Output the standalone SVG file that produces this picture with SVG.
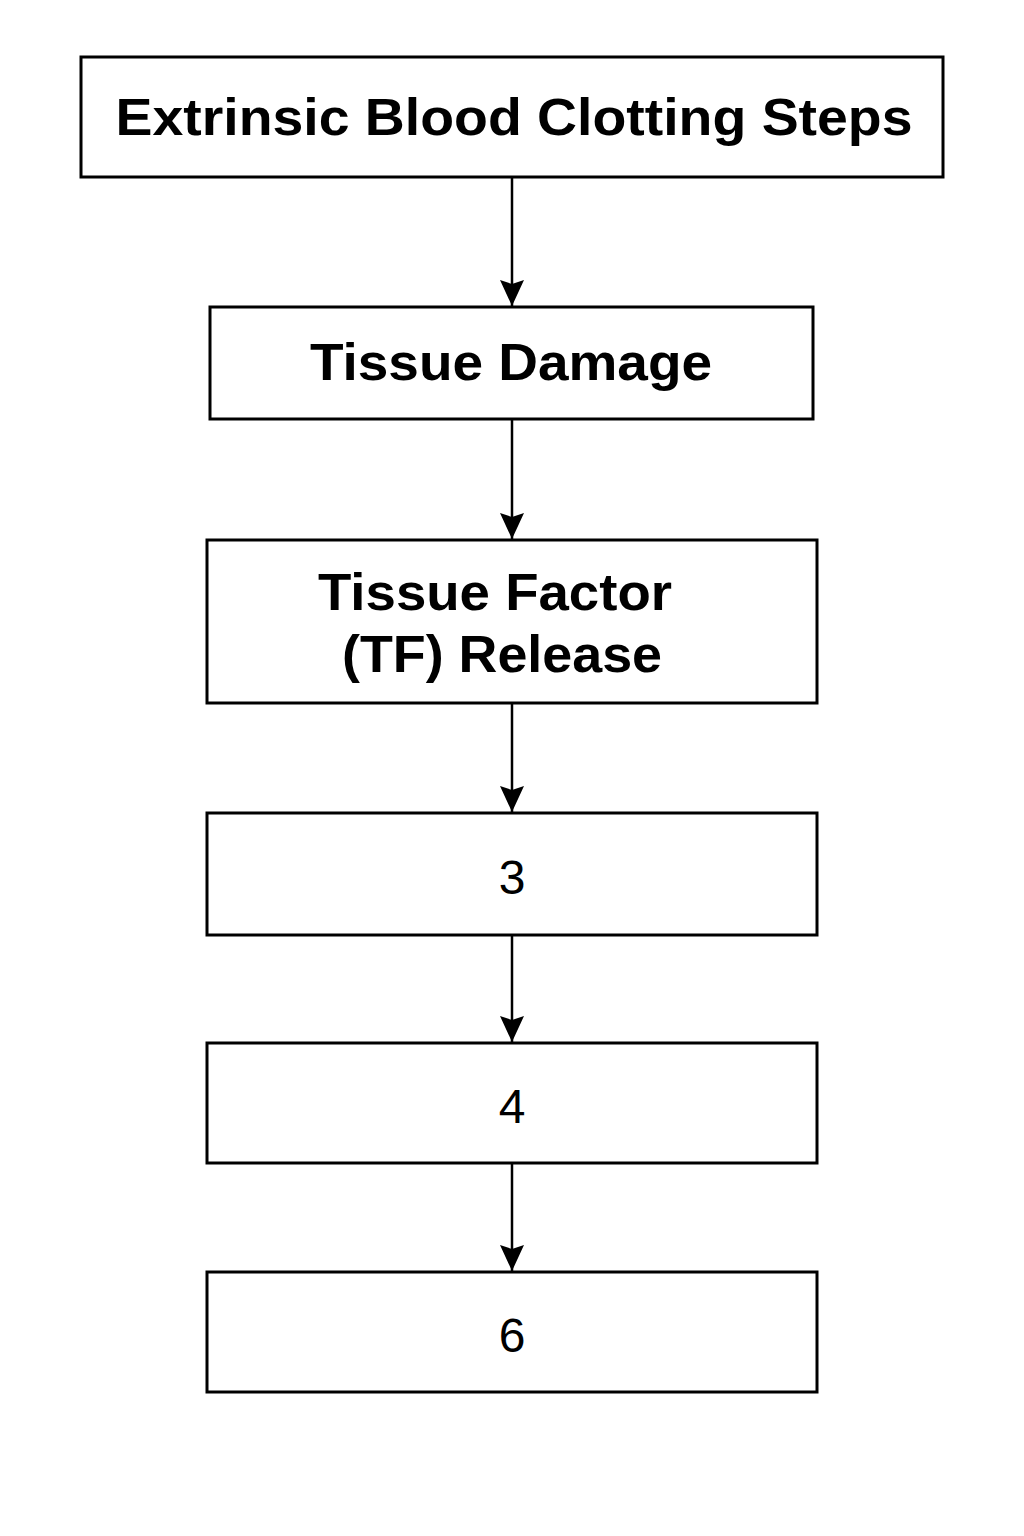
<svg xmlns="http://www.w3.org/2000/svg" width="1024" height="1536" viewBox="0 0 1024 1536">
<defs>
<style>
.box{fill:#fff;stroke:#000;stroke-width:3}
.t{font-family:"Liberation Sans",Arial,sans-serif;font-weight:bold;fill:#000;text-anchor:middle}
.n{font-family:"Liberation Sans",Arial,sans-serif;fill:#000;text-anchor:middle;font-size:48px}
.c{stroke:#000;stroke-width:2.5;fill:none}
</style>
<marker id="ah" markerWidth="26" markerHeight="26" viewBox="0 0 26 26" refX="26" refY="13" orient="auto" markerUnits="userSpaceOnUse">
<path d="M0,1 L26,13 L0,25 L4,13 Z" fill="#000"/>
</marker>
</defs>
<rect width="1024" height="1536" fill="#fff"/>
<g id="connectors">
<line class="c" x1="512" y1="178" x2="512" y2="306" marker-end="url(#ah)"/>
<line class="c" x1="512" y1="420" x2="512" y2="539" marker-end="url(#ah)"/>
<line class="c" x1="512" y1="704" x2="512" y2="812" marker-end="url(#ah)"/>
<line class="c" x1="512" y1="936" x2="512" y2="1042" marker-end="url(#ah)"/>
<line class="c" x1="512" y1="1164" x2="512" y2="1271" marker-end="url(#ah)"/>
</g>
<g id="title">
<rect class="box" x="81" y="57" width="862" height="120"/>
<text class="t" x="514" y="135" font-size="52" textLength="797" lengthAdjust="spacingAndGlyphs">Extrinsic Blood Clotting Steps</text>
</g>
<g id="tissue-damage">
<rect class="box" x="210" y="307" width="603" height="112"/>
<text class="t" x="511" y="380" font-size="52" textLength="402" lengthAdjust="spacingAndGlyphs">Tissue Damage</text>
</g>
<g id="tf-release">
<rect class="box" x="207" y="540" width="610" height="163"/>
<text class="t" x="495" y="610" font-size="52" textLength="354" lengthAdjust="spacingAndGlyphs">Tissue Factor</text>
<text class="t" x="502" y="672" font-size="52" textLength="320" lengthAdjust="spacingAndGlyphs">(TF) Release</text>
</g>
<g id="step3">
<rect class="box" x="207" y="813" width="610" height="122"/>
<text class="n" x="512" y="894">3</text>
</g>
<g id="step4">
<rect class="box" x="207" y="1043" width="610" height="120"/>
<text class="n" x="512" y="1123">4</text>
</g>
<g id="step6">
<rect class="box" x="207" y="1272" width="610" height="120"/>
<text class="n" x="512" y="1352">6</text>
</g>
</svg>
